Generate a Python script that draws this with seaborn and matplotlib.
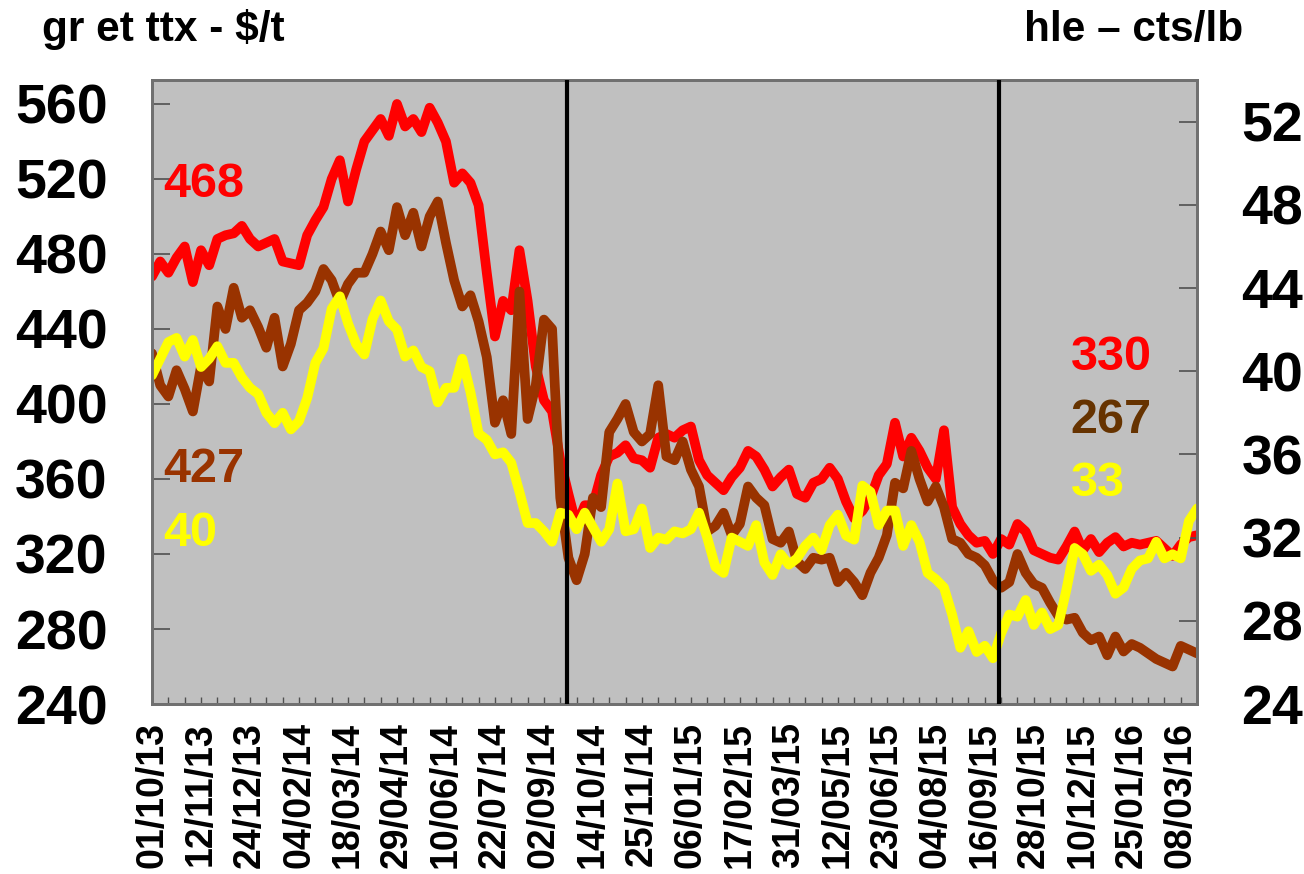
import matplotlib
matplotlib.use('Agg')
import matplotlib.pyplot as plt
import seaborn as sns
import pandas as pd
import numpy as np

sns.set_style("white")
plt.rcParams['font.family'] = ['Liberation Sans', 'DejaVu Sans']
plt.rcParams['font.weight'] = 'bold'
plt.rcParams['text.color'] = 'black'
plt.rcParams['xtick.labelcolor'] = 'black'
plt.rcParams['ytick.labelcolor'] = 'black'

nan = np.nan

# trading session number (one reading every 5 sessions)
day = list(range(0, 641, 5))

# gr - $/t (left axis)
gr = [468, 476, 470, 478, 484, 465, 482, 474, 488, 490,
      491, 495, 488, 484, nan, 488, 476, nan, 474, 490,
      498, 505, 520, 530, 508, 525, 540, 546, 552, 543,
      560, 548, 552, 545, 558, 550, 540, 518, 523, 518,
      506, 470, 436, 455, 450, 482, 455, 420, 402, 396,
      370, 352, 335, 346, 346, 362, 372, 374, 378, 371,
      370, 366, 382, 384, 382, 386, 388, 370, 362, 358,
      354, 361, 366, 375, 372, 365, 356, 361, 365, 352,
      350, 358, 360, 366, 360, 348, 339, 343, 350, 362,
      368, 390, 372, 382, 375, 366, 360, 386, 345, 336,
      330, 326, 327, 320, 328, 325, 336, 332, 322, 320,
      318, 317, 324, 332, 322, 328, 321, 326, 329, 324,
      326, 325, 326, 327, 323, 319, 325, 329, 330]

# ttx - $/t (left axis)
ttx = [427, 410, 404, 418, 408, 396, 420, 412, 452, 440,
       462, 446, 450, 441, 430, 446, 420, 432, 450, 454,
       460, 472, 466, 454, 464, 470, 470, 480, 492, 482,
       505, 490, 502, 484, 500, 508, 486, 466, 452, 458,
       444, 425, 390, 402, 384, 460, 392, 410, 445, 440,
       350, 318, 306, 320, 350, 345, 385, 392, 400, 385,
       380, 384, 410, 372, 370, 380, 365, 356, 332, 335,
       342, 330, 336, 356, 350, 346, 328, 326, 332, 316,
       312, 318, 317, 318, 305, 310, 305, 298, 310, 318,
       330, 358, 355, 375, 360, 348, 356, 345, 328, 326,
       320, 318, 314, 306, 302, 305, 320, 310, 304, 302,
       294, 287, 285, 286, 278, 274, 276, 266, 276, 268,
       272, 270, 267, 264, 262, 260, 271, 269, 267]

# hle - cts/lb (right axis)
hle = [39.8, 40.6, 41.4, 41.6, 40.7, 41.5, 40.2, 40.6, 41.2, 40.4,
       40.4, 39.7, 39.2, 38.9, 38.0, 37.5, 38.0, 37.2, 37.6, 38.7,
       40.4, 41.1, 43.0, 43.6, 42.3, 41.3, 40.8, 42.5, 43.4, 42.4,
       42.0, 40.7, 41.0, 40.2, 40.0, 38.5, 39.2, 39.2, 40.6, 39.0,
       37.0, 36.7, 36.0, 36.1, 35.6, 34.2, 32.7, 32.7, 32.3, 31.8,
       33.2, 33.1, 32.4, 33.2, 32.5, 31.8, 32.4, 34.6, 32.3, 32.4,
       33.4, 31.5, 32.0, 31.9, 32.3, 32.2, 32.4, 33.2, 32.0, 30.6,
       30.3, 32.0, 31.8, 31.6, 32.6, 30.8, 30.2, 31.2, 30.7, 31.0,
       31.6, 32.0, 31.4, 32.6, 33.1, 32.1, 31.9, 34.5, 34.2, 32.6,
       33.3, 33.3, 31.6, 32.6, 31.8, 30.3, 30.0, 29.6, 28.3, 26.7,
       27.5, 26.5, 26.8, 26.2, 27.4, 28.3, 28.2, 29.0, 27.8, 28.4,
       27.6, 27.8, 29.5, 31.5, 31.2, 30.4, 30.7, 30.2, 29.3, 29.6,
       30.5, 30.9, 31.0, 31.8, 31.0, 31.2, 31.0, 32.8, 33.4]

tick_days = list(range(0, 631, 30))
tick_labels = ['01/10/13', '12/11/13', '24/12/13', '04/02/14', '18/03/14',
               '29/04/14', '10/06/14', '22/07/14', '02/09/14', '14/10/14',
               '25/11/14', '06/01/15', '17/02/15', '31/03/15', '12/05/15',
               '23/06/15', '04/08/15', '16/09/15', '28/10/15', '10/12/15',
               '25/01/16', '08/03/16']

# sessions where a new crop year starts
campaign_start = [254, 519]

RED = '#FF0000'
BROWN = '#993300'
YELLOW = '#FFFF00'


def plot_prices():
	fig = plt.figure(figsize=(13.04, 8.74), dpi=100)
	ax = fig.add_axes([0.1166, 0.1945, 0.8014, 0.714])
	ax.set_facecolor('#C0C0C0')
	df = pd.DataFrame({'day': day, 'gr': gr, 'ttx': ttx, 'hle': hle})

	style = dict(linewidth=7, solid_capstyle='round', solid_joinstyle='round')
	sns.lineplot(data=df, x='day', y='gr', color=RED, ax=ax, **style)
	sns.lineplot(data=df, x='day', y='ttx', color=BROWN, ax=ax, **style)

	ax2 = ax.twinx()
	sns.lineplot(data=df, x='day', y='hle', color=YELLOW, ax=ax2, **style)
	for d in campaign_start:
		ax2.axvline(d, color='black', linewidth=3, zorder=5)

	ax.set_xlim(0, 640)
	ax.set_ylim(240, 572.8)
	ax2.set_ylim(24, 54)
	for a in (ax, ax2):
		a.set_xlabel('')
		a.set_ylabel('')
		for s in a.spines.values():
			s.set_color('#707070')
			s.set_linewidth(2)

	ax.set_yticks(np.arange(240, 561, 40))
	ax2.set_yticks(np.arange(24, 53, 4))
	ax.tick_params(axis='y', direction='in', length=13, width=1.2, color='#505050',
	               pad=32, labelsize=40, labelcolor='black', left=True)
	ax2.tick_params(axis='y', direction='in', length=13, width=1.2, color='#505050',
	                pad=32, labelsize=40, labelcolor='black', right=True)
	for lab in ax.get_yticklabels() + ax2.get_yticklabels():
		lab.set_fontweight('bold')

	ax.set_xticks(tick_days)
	ax.set_xticklabels(tick_labels, rotation=90, fontsize=27, fontweight='bold')
	ax.set_xticks(range(0, 641, 10), minor=True)
	ax.tick_params(axis='x', which='both', direction='in', length=5, width=1,
	               color='#505050', pad=13, labelcolor='black', bottom=True)

	# first and last values
	lab = dict(transform=ax2.transAxes, fontsize=35, fontweight='bold', va='center', zorder=6)
	ax2.text(0.0105, 0.832, '%d' % round(gr[0]), color=RED, **lab)
	ax2.text(0.0105, 0.375, '%d' % round(ttx[0]), color=BROWN, **lab)
	ax2.text(0.0105, 0.274, '%d' % round(hle[0]), color=YELLOW, **lab)
	ax2.text(0.879, 0.556, '%d' % round(gr[-1]), color=RED, **lab)
	ax2.text(0.879, 0.455, '%d' % round(ttx[-1]), color='#663300', **lab)
	ax2.text(0.879, 0.354, '%d' % round(hle[-1]), color=YELLOW, **lab)

	fig.text(0.0322, 0.9657, 'gr et ttx - $/t', ha='left', va='center', fontsize=30.5,
	         fontweight='bold', color='black')
	fig.text(0.9532, 0.9657, 'hle \u2013 cts/lb', ha='right', va='center', fontsize=30.5,
	         fontweight='bold', color='black')

	fig.savefig('out.png', dpi=100)
	plt.close(fig)


if __name__ == '__main__':
	plot_prices()
